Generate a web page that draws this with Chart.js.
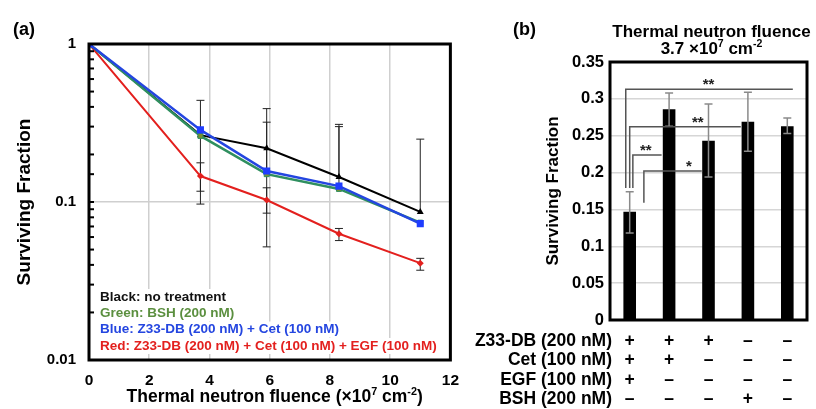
<!DOCTYPE html>
<html lang="en">
<head>
  <meta charset="UTF-8">
  <title>Surviving fraction after thermal neutron irradiation</title>
  <style>
    * { box-sizing: border-box; }
    body { margin: 0; background: #fff; width: 816px; height: 409px; position: relative; overflow: hidden; }
    #boxA { position: absolute; left: 0; top: 0; width: 470px; height: 409px; }
    #boxB { position: absolute; left: 440px; top: 0; width: 376px; height: 409px; }
  </style>
  <script src="https://cdn.jsdelivr.net/npm/chart.js@4.4.1/dist/chart.umd.min.js"></script>
</head>
<body>
  <div id="boxA"><canvas id="chartA"></canvas></div>
  <div id="boxB"><canvas id="chartB"></canvas></div>

  <script>
    // --- Panel (a) data: survival curves ---
    const fluence = [0, 3.7, 5.9, 8.3, 11.0];
    const blackSF = [1, 0.265, 0.219, 0.144, 0.0865];
    const greenSF = [1, 0.262, 0.150, 0.121, 0.074];
    const blueSF  = [1, 0.286, 0.157, 0.126, 0.073];
    const redSF   = [1, 0.146, 0.103, 0.063, 0.041];
    // error bar ends (null = none / not shown)
    const blackHi = [null, 0.44, 0.39, 0.31, 0.25];
    const blackLo = [null, 0.097, 0.052, null, null];
    const greenHi = [null, null, 0.32, 0.30, null];
    const greenLo = [null, null, null, null, null];
    const redHi   = [null, 0.177, 0.123, 0.068, 0.044];
    const redLo   = [null, 0.117, 0.085, 0.057, 0.037];
    const xTicksA = [0, 2, 4, 6, 8, 10, 12];
    const legendA = [
      ['Black: no treatment', '#111111'],
      ['Green: BSH (200 nM)', '#5b8f3f'],
      ['Blue: Z33-DB (200 nM) + Cet (100 nM)', '#2446e0'],
      ['Red: Z33-DB (200 nM) + Cet (100 nM) + EGF (100 nM)', '#e3201e']
    ];

    // --- Panel (b) data: bars at 3.7 x10^7 cm^-2 ---
    const groups  = ['1', '2', '3', '4', '5'];
    const barSF   = [0.147, 0.286, 0.243, 0.269, 0.263];
    const barHi   = [0.174, 0.308, 0.293, 0.309, 0.274];
    const barLo   = [0.118, 0.263, 0.194, 0.229, 0.253];
    const rowNames = ['Z33-DB (200 nM)', 'Cet (100 nM)', 'EGF (100 nM)', 'BSH (200 nM)'];
    const rowZ33 = ['+', '+', '+', '–', '–'];
    const rowCet = ['+', '+', '–', '–', '–'];
    const rowEGF = ['+', '–', '–', '–', '–'];
    const rowBSH = ['–', '–', '–', '+', '–'];
    // significance brackets (category units / y values)
    const sigFrom  = [-0.1, 0.0, 0.08, 0.36];
    const sigTo    = [4.14, 2.82, 0.81, 1.83];
    const sigLevel = [0.313, 0.262, 0.224, 0.202];
    const sigFoot  = [0.179, 0.179, 0.179, 0.159];
    const sigText  = ['**', '**', '**', '*'];
    const sigTextX = [2.0, 1.73, 0.41, 1.5];

    const FONT = "'Liberation Sans', Arial, sans-serif";
    const bold = px => `bold ${px}px ${FONT}`;

    // draw a string with superscript parts: parts = [[text, isSup], ...]
    function drawRich(ctx, parts, cx, cy, px) {
      ctx.save();
      ctx.textBaseline = 'middle';
      ctx.textAlign = 'left';
      let w = 0;
      parts.forEach(([t, sup]) => { ctx.font = bold(sup ? px * 0.62 : px); w += ctx.measureText(t).width; });
      let x = cx - w / 2;
      parts.forEach(([t, sup]) => {
        ctx.font = bold(sup ? px * 0.62 : px);
        ctx.fillText(t, x, sup ? cy - px * 0.3 : cy);
        x += ctx.measureText(t).width;
      });
      ctx.restore();
    }

    function errLines(ctx, xPix, y0, y1, capTop, capBot, half) {
      ctx.beginPath();
      ctx.moveTo(xPix, y0); ctx.lineTo(xPix, y1);
      if (capTop) { ctx.moveTo(xPix - half, y0); ctx.lineTo(xPix + half, y0); }
      if (capBot) { ctx.moveTo(xPix - half, y1); ctx.lineTo(xPix + half, y1); }
      ctx.stroke();
    }

    // --- Panel (a) plugin: error bars, minor ticks, border, legend, labels ---
    const panelA = {
      id: 'panelA',
      beforeDatasetsDraw(chart) {
        const { ctx, scales: { x, y } } = chart;
        ctx.save();
        ctx.strokeStyle = '#222';
        ctx.lineWidth = 1;
        const sets = [[blackSF, blackHi, blackLo], [greenSF, greenHi, greenLo], [redSF, redHi, redLo]];
        sets.forEach(([v, hi, lo]) => {
          fluence.forEach((f, i) => {
            if (hi[i] == null && lo[i] == null) return;
            const top = y.getPixelForValue(hi[i] ?? v[i]);
            const bot = y.getPixelForValue(lo[i] ?? v[i]);
            errLines(ctx, x.getPixelForValue(f), top, bot, hi[i] != null, lo[i] != null, 4);
          });
        });
        ctx.restore();
      },
      afterDraw(chart) {
        const { ctx, chartArea: a, scales: { x, y } } = chart;
        ctx.save();
        // minor log ticks on the left axis
        ctx.strokeStyle = '#000';
        ctx.lineWidth = 2;
        y.ticks.forEach(t => {
          const p = y.getPixelForValue(t.value);
          ctx.beginPath(); ctx.moveTo(a.left, p); ctx.lineTo(a.left + 5, p); ctx.stroke();
        });
        // legend text block
        ctx.font = bold(13.5);
        ctx.textBaseline = 'middle';
        ctx.textAlign = 'left';
        const rows = [a.bottom - 63, a.bottom - 47, a.bottom - 30.5, a.bottom - 14];
        legendA.forEach(([t, c], i) => {
          const w = ctx.measureText(t).width;
          ctx.fillStyle = '#fff';
          ctx.fillRect(a.left + 9, rows[i] - 8, w + 4, 16);
          ctx.fillStyle = c;
          ctx.fillText(t, a.left + 11, rows[i]);
        });
        // thick frame
        ctx.strokeStyle = '#000';
        ctx.lineWidth = 3;
        ctx.strokeRect(a.left, a.top, a.right - a.left, a.bottom - a.top);
        // axis title with superscripts, panel label
        ctx.fillStyle = '#000';
        drawRich(ctx, [['Thermal neutron fluence (×10', 0], ['7', 1], [' cm', 0], ['-2', 1], [')', 0]],
          (a.left + a.right) / 2 + 5, 397, 17.5);
        ctx.font = bold(18);
        ctx.textAlign = 'left';
        ctx.fillText('(a)', 13, 30);
        ctx.restore();
      }
    };

    new Chart(document.getElementById('chartA'), {
      type: 'line',
      data: {
        datasets: [
          { label: 'Blue', data: fluence.map((f, i) => ({ x: f, y: blueSF[i] })),
            borderColor: '#2446e0', backgroundColor: '#1f3cff', borderWidth: 2.5,
            pointStyle: 'rect', pointRadius: 5, pointBorderWidth: 0 },
          { label: 'Green', data: fluence.map((f, i) => ({ x: f, y: greenSF[i] })),
            borderColor: '#2f8f5f', backgroundColor: '#7b8f30', borderWidth: 2.5,
            pointStyle: 'rect', pointRadius: 3.5, pointBorderColor: '#2f8f5f', pointBorderWidth: 1 },
          { label: 'Black', data: fluence.map((f, i) => ({ x: f, y: blackSF[i] })),
            borderColor: '#000', backgroundColor: '#000', borderWidth: 2,
            pointStyle: 'triangle', pointRadius: 4, pointBorderWidth: 0 },
          { label: 'Red', data: fluence.map((f, i) => ({ x: f, y: redSF[i] })),
            borderColor: '#e3201e', backgroundColor: '#e3201e', borderWidth: 2,
            pointStyle: 'rectRot', pointRadius: 3.5, pointBorderWidth: 0 }
        ]
      },
      options: {
        responsive: true,
        maintainAspectRatio: false,
        animation: false,
        events: [],
        layout: { padding: { left: 0, right: 17, top: 44, bottom: 0 } },
        plugins: { legend: { display: false }, tooltip: { enabled: false } },
        scales: {
          x: {
            type: 'linear', min: 0, max: 12,
            afterFit: s => { s.height = 49; },
            afterBuildTicks: s => { s.ticks = xTicksA.map(v => ({ value: v })); },
            grid: { color: c => (c.tick && (c.tick.value === 0 || c.tick.value === 12)) ? 'transparent' : '#cfcfcf',
                    lineWidth: 1.5, drawTicks: false },
            border: { display: false },
            ticks: { color: '#000', font: { family: FONT, weight: 'bold', size: 15.5 }, padding: 11 }
          },
          y: {
            type: 'logarithmic', min: 0.01, max: 1,
            afterFit: s => { s.width = 89; },
            grid: { color: c => (c.tick && Math.abs(c.tick.value - 0.1) < 1e-9) ? '#cfcfcf' : 'transparent',
                    lineWidth: 1.5, drawTicks: false },
            border: { display: false },
            ticks: {
              autoSkip: false, color: '#000', padding: 13,
              font: { family: FONT, weight: 'bold', size: 15 },
              callback: v => {
                const l = Math.log10(v);
                return Math.abs(l - Math.round(l)) < 1e-9 ? String(+v.toFixed(2)) : '';
              }
            },
            title: { display: true, text: 'Surviving Fraction', color: '#000',
                     font: { family: FONT, weight: 'bold', size: 19 }, padding: { top: 13.5, bottom: 0 } }
          }
        }
      },
      plugins: [panelA]
    });

    // --- Panel (b) plugin: error bars, brackets, table rows, frame, title ---
    const panelB = {
      id: 'panelB',
      afterDatasetsDraw(chart) {
        const { ctx, scales: { x, y } } = chart;
        ctx.save();
        // error bars
        ctx.strokeStyle = '#8a8a8a';
        ctx.lineWidth = 1.5;
        barSF.forEach((v, i) => {
          errLines(ctx, x.getPixelForValue(i), y.getPixelForValue(barHi[i]), y.getPixelForValue(barLo[i]), true, true, 4);
        });
        // significance brackets
        ctx.strokeStyle = '#555';
        ctx.lineWidth = 1.5;
        sigFrom.forEach((f, i) => {
          const x1 = x.getPixelForValue(f), x2 = x.getPixelForValue(sigTo[i]);
          const yl = y.getPixelForValue(sigLevel[i]), yf = y.getPixelForValue(sigFoot[i]);
          ctx.beginPath();
          ctx.moveTo(x1, yf); ctx.lineTo(x1, yl); ctx.lineTo(x2, yl);
          ctx.stroke();
        });
        ctx.fillStyle = '#222';
        ctx.font = bold(15);
        ctx.textAlign = 'center';
        ctx.textBaseline = 'middle';
        sigText.forEach((t, i) => {
          ctx.fillText(t, x.getPixelForValue(sigTextX[i]), y.getPixelForValue(sigLevel[i]) - 4);
        });
        ctx.restore();
      },
      afterDraw(chart) {
        const { ctx, chartArea: a, scales: { x } } = chart;
        ctx.save();
        ctx.strokeStyle = '#000';
        ctx.lineWidth = 3;
        ctx.strokeRect(a.left, a.top, a.right - a.left, a.bottom - a.top);
        // treatment table
        ctx.fillStyle = '#000';
        ctx.font = bold(17.5);
        ctx.textBaseline = 'middle';
        const rowY = [341, 360.5, 380, 399];
        const rows = [rowZ33, rowCet, rowEGF, rowBSH];
        rowNames.forEach((n, r) => {
          ctx.textAlign = 'right';
          ctx.fillText(n, a.left + 2, rowY[r]);
          ctx.textAlign = 'center';
          rows[r].forEach((s, i) => ctx.fillText(s, x.getPixelForValue(i), rowY[r]));
        });
        // title
        const cx = (a.left + a.right) / 2 + 3;
        ctx.textAlign = 'center';
        ctx.font = bold(17);
        ctx.fillText('Thermal neutron fluence', cx, 32);
        drawRich(ctx, [['3.7 ×10', 0], ['7', 1], [' cm', 0], ['-2', 1]], cx, 49, 17);
        ctx.font = bold(18);
        ctx.textAlign = 'left';
        ctx.fillText('(b)', 73, 30);
        ctx.restore();
      }
    };

    new Chart(document.getElementById('chartB'), {
      type: 'bar',
      data: {
        labels: groups,
        datasets: [{ data: barSF, backgroundColor: '#000', barPercentage: 0.32, categoryPercentage: 1 }]
      },
      options: {
        responsive: true,
        maintainAspectRatio: false,
        animation: false,
        events: [],
        layout: { padding: { left: 0, right: 9, top: 62, bottom: 0 } },
        plugins: { legend: { display: false }, tooltip: { enabled: false } },
        scales: {
          x: {
            afterFit: s => { s.height = 89; },
            grid: { display: false },
            border: { display: false },
            ticks: { display: false }
          },
          y: {
            min: 0, max: 0.35,
            afterFit: s => { s.width = 170; },
            grid: { color: c => (c.tick && (c.tick.value <= 0 || c.tick.value >= 0.349)) ? 'transparent' : '#d6d6d6',
                    lineWidth: 1.5, drawTicks: false },
            border: { display: false },
            ticks: { stepSize: 0.05, color: '#000', padding: 6,
                     font: { family: FONT, weight: 'bold', size: 16.5 },
                     callback: v => String(+v.toFixed(2)) },
            title: { display: true, text: 'Surviving Fraction', color: '#000',
                     font: { family: FONT, weight: 'bold', size: 17 }, padding: { top: 103, bottom: 0 } }
          }
        }
      },
      plugins: [panelB]
    });
  </script>
</body>
</html>
